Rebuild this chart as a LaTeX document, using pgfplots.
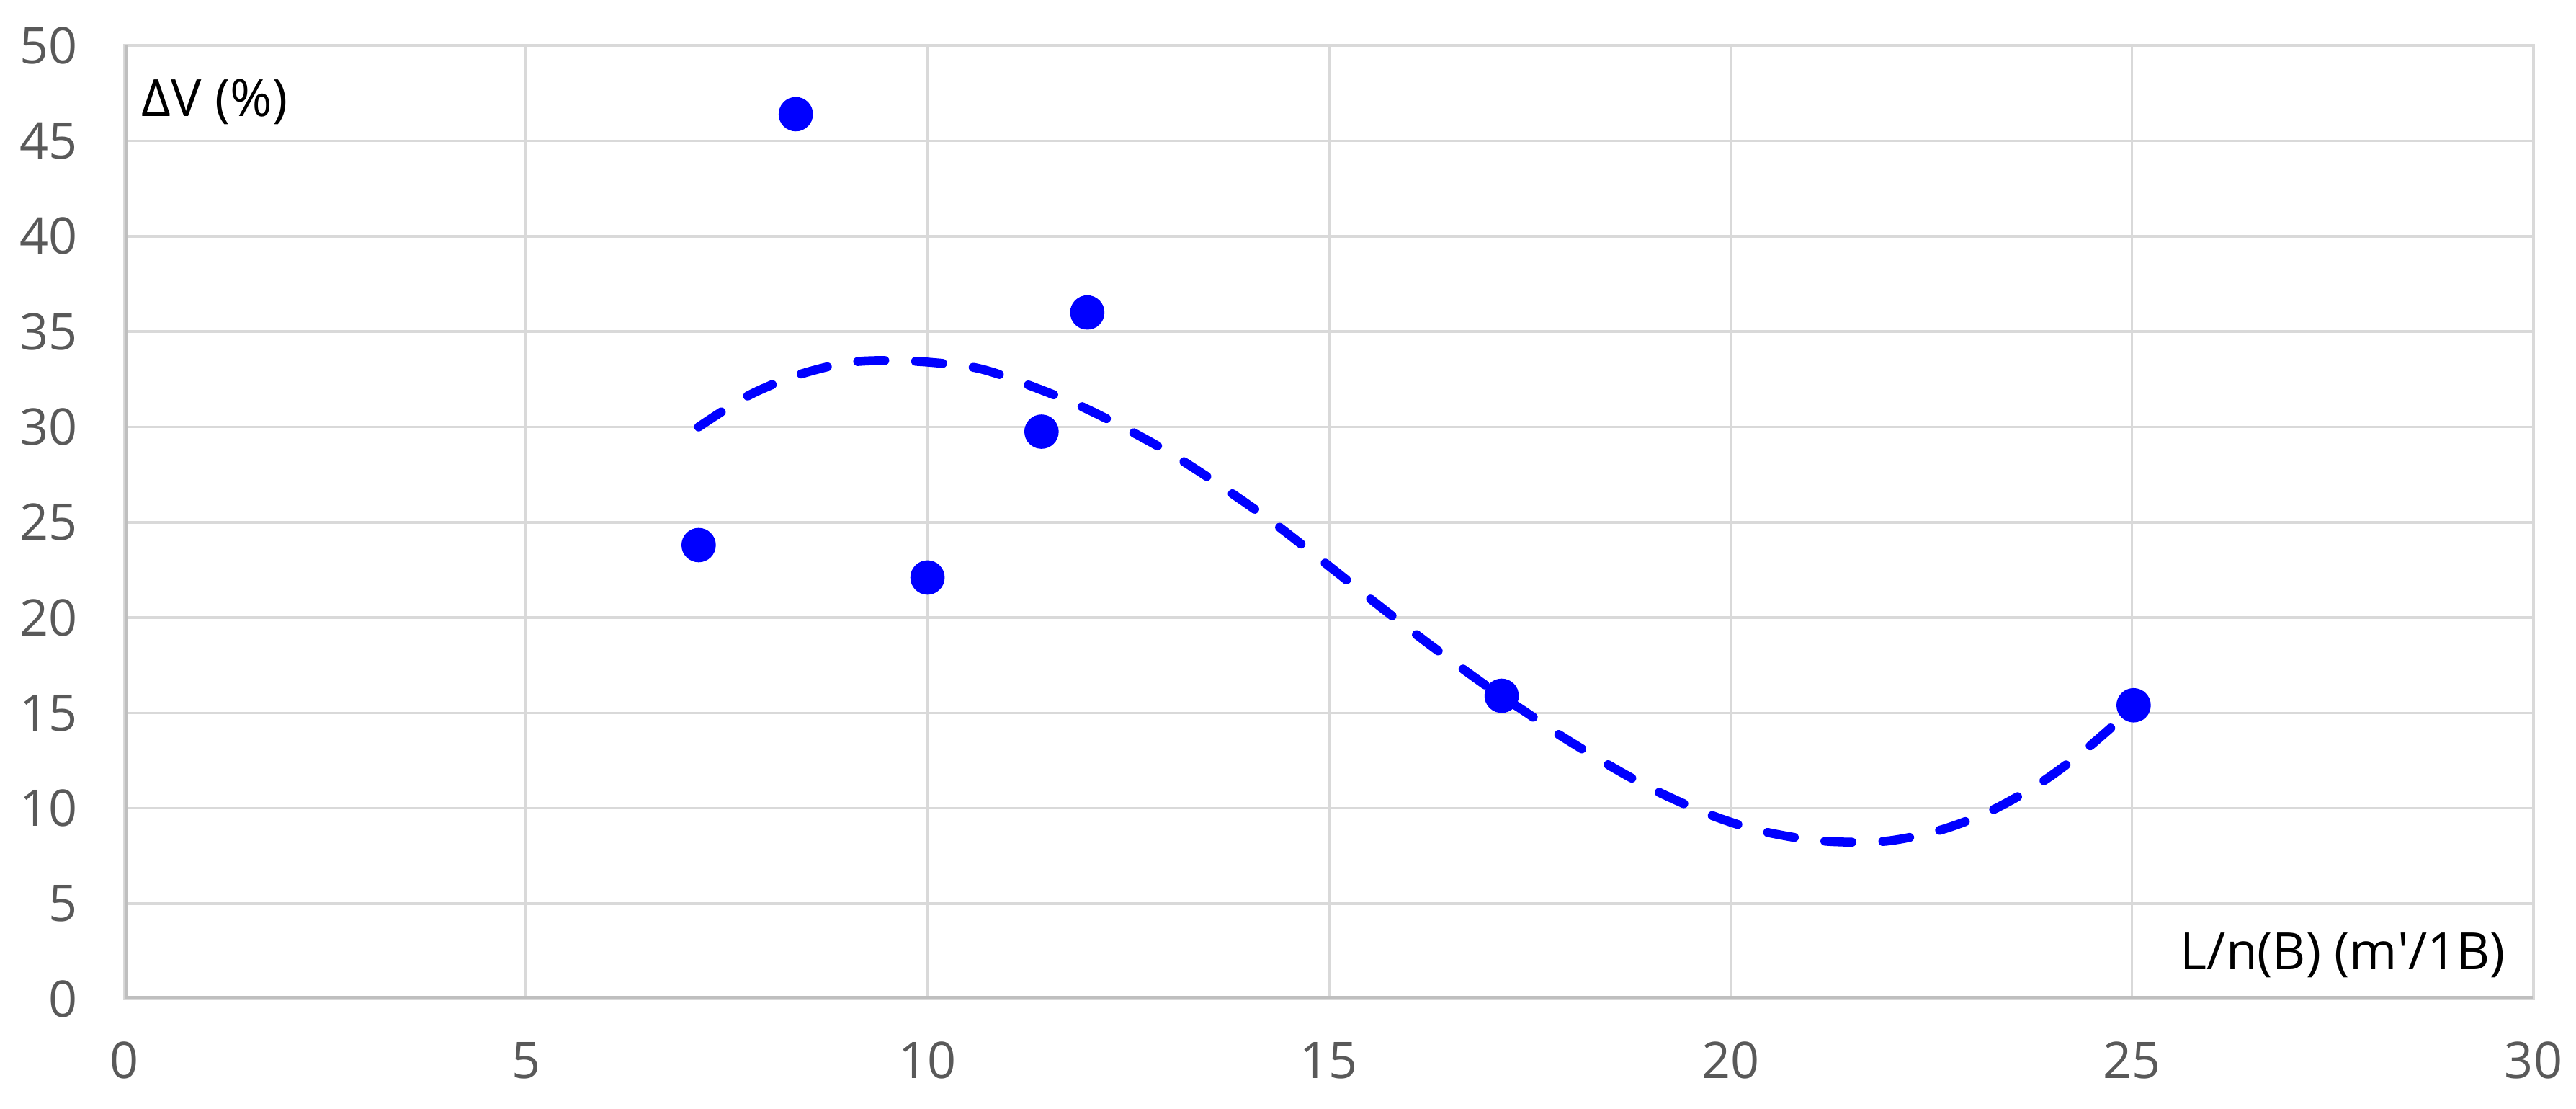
\documentclass[border=0pt]{standalone}
\usepackage{fontspec}
\setmainfont{Open Sans}
\usepackage{pgfplots}
\pgfplotsset{compat=1.18}
\definecolor{gridc}{RGB}{217,217,217}
\definecolor{axc}{RGB}{191,191,191}
\definecolor{tickc}{RGB}{89,89,89}
\definecolor{ptc}{RGB}{0,0,255}

\begin{document}
\begin{tikzpicture}
\useasboundingbox (0,0) rectangle (600bp,258.2bp);
\begin{axis}[
    at={(29bp,25.6bp)}, anchor=south west,
    scale only axis, width=561.1bp, height=222bp,
    xmin=0, xmax=30, ymin=0, ymax=50,
    xtick={0,5,...,30}, ytick={0,5,...,50},
    grid=major,
    major grid style={draw=gridc, line width=0.6bp},
    axis line style={draw=gridc, line width=0.6bp},
    tick style={draw=none},
    /pgf/number format/assume math mode=true,
    ticklabel style={font=\fontsize{11.8}{14}\selectfont, text=tickc},
    xticklabel style={yshift=-6.5bp},
    yticklabel style={xshift=-7.5bp},
    every axis x label/.style={at={(rel axis cs:0.9946,0.046)}, anchor=east},
    every axis y label/.style={at={(rel axis cs:0,0.941)}, anchor=west, xshift=0.5bp},
    label style={font=\fontsize{12}{14}\selectfont, text=black},
    xlabel={L/n(B) (m\textquotesingle/1B)},
    ylabel={ΔV (\%)},
]
% measured points
\addplot[only marks, mark=*, mark size=3.8bp, mark options={draw=ptc, fill=ptc}]
coordinates {
    (7.15, 23.8)
    (8.36, 46.4)
    (10.0, 22.1)
    (11.42, 29.75)
    (11.99, 36.0)
    (17.15, 15.9)
    (25.02, 15.4)
};
% polynomial trend line
\addplot[ptc, line width=2.1bp, line cap=round, dash pattern=on 6.3bp off 7.2bp, smooth, tension=0.5]
coordinates {
    (7.15, 30.0)
    (7.75, 31.6)
    (8.37, 32.7)
    (9.06, 33.4)
    (9.81, 33.45)
    (10.6, 33.1)
    (11.19, 32.3)
    (11.85, 31.2)
    (12.43, 30.0)
    (13.03, 28.6)
    (13.62, 27.0)
    (14.3, 25.0)
    (15.0, 22.7)
    (15.63, 20.6)
    (16.28, 18.5)
    (17.0, 16.3)
    (17.43, 15.1)
    (17.85, 13.9)
    (18.47, 12.3)
    (19.03, 11.0)
    (19.72, 9.7)
    (20.35, 8.84)
    (21.1, 8.3)
    (21.9, 8.26)
    (22.6, 8.84)
    (23.23, 9.84)
    (23.85, 11.3)
    (24.4, 13.0)
    (25.0, 15.2)
};
\draw[axc, line width=1.3bp] (rel axis cs:0,1) -- (rel axis cs:0,0) -- (rel axis cs:1,0);
\end{axis}
\end{tikzpicture}
\end{document}
